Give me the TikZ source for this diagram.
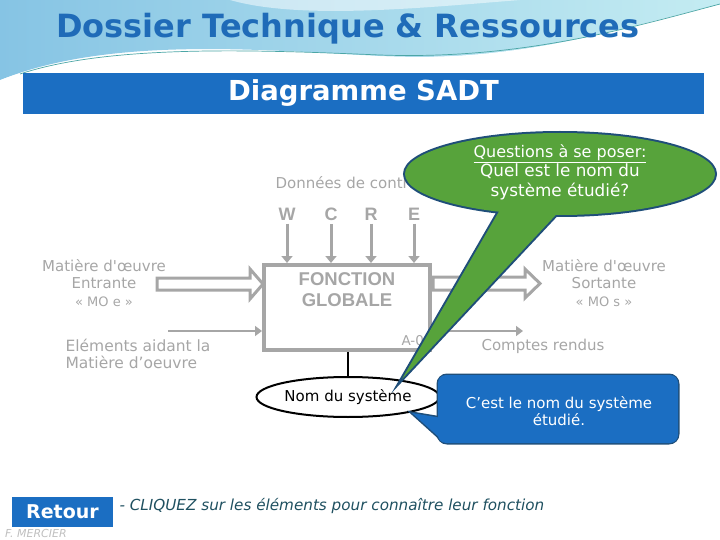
\documentclass[tikz,border=0pt]{standalone}
\usepackage{fontspec}
\setmainfont{DejaVu Sans}
\newfontfamily\verdana{DejaVu Sans}
\newfontfamily\arialfont{Liberation Sans}
\usepackage{xcolor}
\usetikzlibrary{positioning,arrows.meta,shapes.geometric,calc}

\definecolor{sadtgrey}{HTML}{A6A6A6}
\definecolor{sadtblue}{HTML}{1B6EC2}
\definecolor{titleblue}{HTML}{1F6BB8}
\definecolor{bulgreen}{HTML}{57A33B}
\definecolor{bulborder}{HTML}{1F4E79}
\definecolor{hdrblue}{HTML}{86C4E4}
\definecolor{hdrcyan}{HTML}{C4ECF2}
\definecolor{notetxt}{HTML}{1F5060}

\begin{document}
\begin{tikzpicture}[x=1pt, y=-1pt,
    greytxt/.style={text=sadtgrey, font=\verdana\fontsize{15}{17.5}\selectfont, align=center},
    letter/.style={text=sadtgrey, font=\arialfont\bfseries\fontsize{18}{18}\selectfont},
    ctrl/.style={draw=sadtgrey, line width=3pt, -{Triangle[length=7pt,width=11pt]}},
    thinarr/.style={draw=sadtgrey, line width=2.5pt, -{Triangle[length=7pt,width=10pt]}},
    hollow/.style={draw=sadtgrey, line width=3pt, fill=white, line join=miter},
    bubble/.style={draw=bulborder, line width=4pt}
]
\useasboundingbox (0,0) rectangle (720,540);

% header
\shade[left color=hdrblue, right color=hdrcyan] (0,0) -- (720,0) -- (720,6)
    .. controls (610,36) and (520,62) .. (380,56)
    .. controls (260,50) and (110,36) .. (0,80) -- cycle;
\fill[white, opacity=0.5] (230,0) .. controls (300,20) and (420,8) .. (520,0) -- cycle;
\draw[white, line width=3pt] (0,82) .. controls (110,40) and (260,52) .. (380,58)
    .. controls (520,64) and (620,30) .. (720,6);
\draw[teal!70, line width=0.7pt] (20,74) .. controls (110,44) and (260,50) .. (380,55)
    .. controls (520,60) and (630,28) .. (720,4);
\draw[white, line width=0.6pt] (600,40) -- (720,12);
\draw[white, line width=0.6pt] (610,44) -- (720,20);
\node (title) [text=titleblue, font=\bfseries\fontsize{32}{32}\selectfont] at (348,29) {Dossier Technique \& Ressources};

% banner
\node (banner) [fill=sadtblue, minimum width=681pt, minimum height=41pt, inner sep=0pt,
    text=white, font=\bfseries\fontsize{27.5}{27.5}\selectfont] at (363.5,93.5) {Diagramme SADT};

% SADT box
\node (ctrltxt) [greytxt, anchor=west] at (272,183) {Données de contrôle};
\node (w) [letter] at (287,214) {W};
\node (c) [letter] at (331,214) {C};
\node (r) [letter] at (371,214) {R};
\node (e) [letter] at (414,214) {E};
\node (fg) [draw=sadtgrey, line width=4pt, minimum width=166pt, minimum height=85pt] at (347,307.5) {};
\node (fgtxt) [text=sadtgrey, font=\arialfont\bfseries\fontsize{18.5}{21}\selectfont, align=center] at (347,290) {FONCTION\\GLOBALE};
\node (a0) [text=sadtgrey, font=\verdana\fontsize{13.5}{13.5}\selectfont, anchor=west] at (398,341) {A-0};
\foreach \l in {w,c,r,e}
    \draw[ctrl] (\l.south) -- (\l.south |- fg.north);

% inputs
\node (moe) [greytxt] at (104,283) {Matière d'œuvre\\Entrante\\{\fontsize{13}{13}\selectfont « MO e »}};
\node (elem) [greytxt, align=left, anchor=west, font=\verdana\fontsize{15.5}{16.5}\selectfont] at (62,354) {Eléments aidant la\\Matière d’oeuvre};
\coordinate (elin) at (168,331);
\draw[thinarr] (elin) -- (elin -| fg.west);
\draw[hollow] (157,278) -- (250,278) -- (250,269) -- (263,284) -- (250,299) -- (250,290) -- (157,290) -- cycle;

% outputs
\draw[hollow] (433,277) -- (525,277) -- (525,269) -- (540,283.5) -- (525,298) -- (525,290) -- (433,290) -- cycle;
\node (mos) [greytxt] at (604,283) {Matière d'œuvre\\Sortante\\{\fontsize{13}{13}\selectfont « MO s »}};
\coordinate (crout) at (523,331);
\draw[thinarr] (fg.east |- crout) -- (crout);
\node (cr) [greytxt, anchor=west] at (478,346) {Comptes rendus};

% system
\node (nom) [draw, ellipse, line width=2pt, fill=white, minimum width=183pt, minimum height=40pt,
    inner sep=0pt, font=\fontsize{15}{15}\selectfont] at (348,397) {Nom du système};
\draw[line width=2.5pt] (fg.south -| nom.north) -- (nom.north);

% question bubble
\coordinate (qtip) at (402,379);
\path[bubble] (qtip) -- (505.6,200) -- (569.8,200) -- cycle;
\path[bubble] (560,174) ellipse [x radius=155pt, y radius=41pt];
\fill[bulgreen] (qtip) -- (505.6,200) -- (569.8,200) -- cycle;
\fill[bulgreen] (560,174) ellipse [x radius=155pt, y radius=41pt];
\node (quest) [text=white, align=center, font=\fontsize{16.8}{19.5}\selectfont] at (560,172)
    {{\fontsize{16}{19.5}\selectfont\underline{Questions à se poser:}}\\Quel est le nom du\\système étudié?};

% answer bubble
\coordinate (atip) at (412,413);
\path[bubble, line width=3pt] (atip) -- (442,418) -- (442,440) -- cycle;
\path[bubble, line width=3pt, rounded corners=9pt] (438,375) rectangle (678,443);
\fill[sadtblue] (atip) -- (442,418) -- (442,440) -- cycle;
\fill[sadtblue, rounded corners=8pt] (438,375) rectangle (678,443);
\node (answ) [text=white, align=center, font=\fontsize{15}{17}\selectfont] at (559,411)
    {C’est le nom du système\\étudié.};

% footer
\node (retour) [fill=sadtblue, minimum width=101pt, minimum height=30pt, inner sep=0pt,
    text=white, font=\bfseries\fontsize{19}{19}\selectfont] at (62.5,512) {Retour};
\node (note) [anchor=west, text=notetxt, font=\itshape\fontsize{15.2}{15.2}\selectfont] at (116,506)
    {- CLIQUEZ sur les éléments pour connaître leur fonction};
\node (auth) [anchor=west, text=black!25, font=\itshape\fontsize{11}{11}\selectfont, inner sep=0pt] at (5,533) {F. MERCIER};
\end{tikzpicture}
\end{document}
